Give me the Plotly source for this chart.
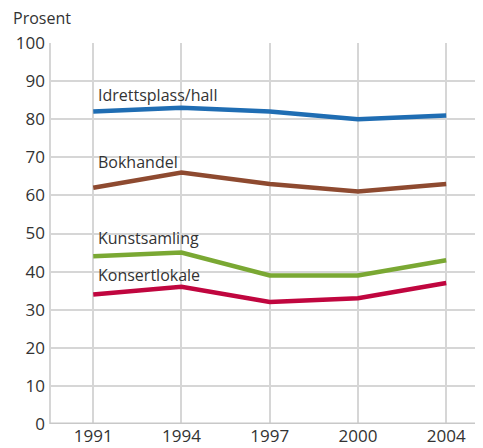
import plotly.graph_objects as go

years = ["1991", "1994", "1997", "2000", "2004"]
idrett = [82, 83, 82, 80, 81]
bokhandel = [62, 66, 63, 61, 63]
kunst = [44, 45, 39, 39, 43]
konsert = [34, 36, 32, 33, 37]

series = [
    ("Idrettsplass/hall", idrett, "#1f6db3", 86.4),
    ("Bokhandel", bokhandel, "#8e4a30", 68.8),
    ("Kunstsamling", kunst, "#7aa833", 48.7),
    ("Konsertlokale", konsert, "#c0063f", 39.0),
]

fig = go.Figure()
for name, vals, color, ly in series:
    fig.add_trace(go.Scatter(x=years, y=vals, mode="lines", name=name,
                             line=dict(color=color, width=4.5), showlegend=False))
    fig.add_annotation(x=0, y=ly, xref="x", yref="y", text=name, showarrow=False,
                       xanchor="left", yanchor="middle", xshift=3,
                       font=dict(size=16, color="#333333"))

fig.add_annotation(x=0, y=1, xref="paper", yref="paper", text="Prosent", showarrow=False,
                   xanchor="left", yanchor="middle", xshift=-39, yshift=25,
                   font=dict(size=16, color="#333333"))

fig.update_layout(
    width=483, height=448,
    margin=dict(l=38, r=8, t=35, b=32),
    paper_bgcolor="white", plot_bgcolor="white",
    font=dict(family="Open Sans", size=17, color="#333333"),
    xaxis=dict(type="category", range=[-0.49, 4.417], showgrid=True, gridcolor="#d6d6d6",
               gridwidth=2, showline=False, ticks="", tickfont=dict(size=17), zeroline=False),
    yaxis=dict(range=[0, 100], dtick=10, showgrid=True, gridcolor="#d6d6d6", gridwidth=2,
               zeroline=False, showline=False, ticks="", tickfont=dict(size=17),
               ticklabelstandoff=4),
)
fig.add_shape(type="line", xref="paper", yref="y", x0=0, x1=1, y0=0, y1=0,
              line=dict(color="#c8c8c8", width=3))
fig.add_shape(type="line", xref="paper", yref="paper", x0=0, x1=0, y0=0, y1=1,
              line=dict(color="#d6d6d6", width=2), layer="below")

fig.write_html("out.html")
